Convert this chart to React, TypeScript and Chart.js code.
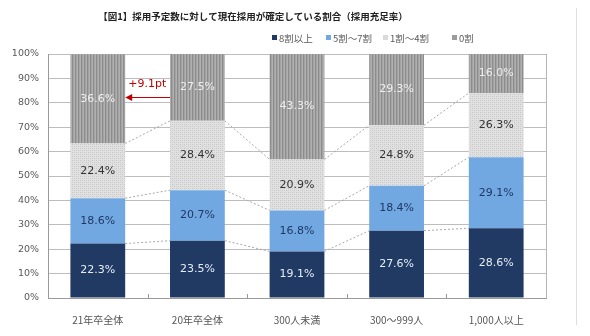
import { useEffect, useRef } from 'react';
import { Chart, registerables } from 'chart.js';

Chart.register(...registerables);

const TITLE = '【図1】採用予定数に対して現在採用が確定している割合（採用充足率）';
const categories = ['21年卒全体', '20年卒全体', '300人未満', '300～999人', '1,000人以上'];
const seriesNames = ['8割以上', '5割～7割', '1割～4割', '0割'];
const s80 = [22.3, 23.5, 19.1, 27.6, 28.6];
const s50 = [18.6, 20.7, 16.8, 18.4, 29.1];
const s10 = [22.4, 28.4, 20.9, 24.8, 26.3];
const s00 = [36.6, 27.5, 43.3, 29.3, 16.0];
const yTickMax = 100;
const yTickStep = 10;
const annotationValue = 82.5;
const annotationText = '+9.1pt';

const LATIN = "'DejaVu Sans', 'Noto Sans CJK JP', sans-serif";
const CJK = "'Noto Sans CJK JP', 'DejaVu Sans', sans-serif";

const NAVY = '#213a63';
const BLUE = '#72a8e2';
const LIGHT = '#dadada';
const GRAY = '#9c9c9c';

function stripePattern(ctx: CanvasRenderingContext2D): CanvasPattern | string {
  const t = document.createElement('canvas');
  t.width = 3; t.height = 2;
  const c = t.getContext('2d')!;
  c.fillStyle = '#a3a3a3'; c.fillRect(0, 0, 3, 2);
  c.fillStyle = '#8c8c8c'; c.fillRect(0, 0, 1, 2);
  c.fillStyle = '#b0b0b0'; c.fillRect(2, 0, 1, 2);
  return ctx.createPattern(t, 'repeat') || GRAY;
}

function dotPattern(ctx: CanvasRenderingContext2D): CanvasPattern | string {
  const t = document.createElement('canvas');
  t.width = 4; t.height = 4;
  const c = t.getContext('2d')!;
  c.fillStyle = '#e0e0e0'; c.fillRect(0, 0, 4, 4);
  c.fillStyle = '#c6c6c6';
  c.fillRect(0, 0, 1, 1); c.fillRect(2, 2, 1, 1);
  c.fillStyle = '#d2d2d2';
  c.fillRect(2, 0, 1, 1); c.fillRect(0, 2, 1, 1);
  return ctx.createPattern(t, 'repeat') || LIGHT;
}

const labelColors = ['#e6edf5', '#1f3864', '#333333', '#eeeeee'];

export default function App() {
  const ref = useRef<HTMLCanvasElement | null>(null);

  useEffect(() => {
    const canvas = ref.current!;
    const ctx = canvas.getContext('2d')!;
    const stripes = stripePattern(ctx);
    const dots = dotPattern(ctx);

    const decor = {
      id: 'decor',
      beforeDatasetsDraw(chart: any) {
        const c = chart.ctx;
        const area = chart.chartArea;
        c.save();
        c.strokeStyle = '#b5b5b5';
        c.lineWidth = 1;
        c.beginPath();
        c.moveTo(Math.round(area.right) + 0.5, area.top);
        c.lineTo(Math.round(area.right) + 0.5, area.bottom);
        c.stroke();
        const xs = chart.scales.x;
        c.strokeStyle = '#999';
        for (let i = 0; i < categories.length - 1; i++) {
          const x = Math.round((xs.getPixelForValue(i) + xs.getPixelForValue(i + 1)) / 2) + 0.5;
          c.beginPath();
          c.moveTo(x, area.bottom - 4);
          c.lineTo(x, area.bottom);
          c.stroke();
        }
        c.strokeStyle = '#a8a8a8';
        c.setLineDash([2, 2]);
        for (let d = 0; d < 3; d++) {
          const meta = chart.getDatasetMeta(d);
          for (let i = 0; i < meta.data.length - 1; i++) {
            const a = meta.data[i];
            const b = meta.data[i + 1];
            c.beginPath();
            c.moveTo(a.x + a.width / 2, a.y);
            c.lineTo(b.x - b.width / 2, b.y);
            c.stroke();
          }
        }
        c.restore();
      },
      afterDatasetsDraw(chart: any) {
        const c = chart.ctx;
        c.save();
        c.textAlign = 'center';
        c.textBaseline = 'middle';
        c.font = `11px ${LATIN}`;
        chart.data.datasets.forEach((ds: any, d: number) => {
          const meta = chart.getDatasetMeta(d);
          meta.data.forEach((el: any, i: number) => {
            const v = ds.data[i] as number;
            c.fillStyle = labelColors[d];
            c.fillText(v.toFixed(1) + '%', el.x, (el.y + el.base) / 2);
          });
        });
        const m0 = chart.getDatasetMeta(3).data[0];
        const m1 = chart.getDatasetMeta(3).data[1];
        const ys = chart.scales.y;
        const y = Math.round(ys.getPixelForValue(annotationValue)) + 0.5;
        const x0 = m0.x + m0.width / 2;
        const x1 = m1.x - m1.width / 2;
        c.strokeStyle = '#c00000';
        c.fillStyle = '#c00000';
        c.lineWidth = 1.2;
        c.beginPath();
        c.moveTo(x1, y);
        c.lineTo(x0 + 6, y);
        c.stroke();
        c.beginPath();
        c.moveTo(x0, y);
        c.lineTo(x0 + 7, y - 3.5);
        c.lineTo(x0 + 7, y + 3.5);
        c.closePath();
        c.fill();
        c.textAlign = 'left';
        c.font = `11px ${LATIN}`;
        c.fillText(annotationText, x0 + 3, y - 13);
        c.fillStyle = '#222';
        c.textAlign = 'center';
        c.font = `bold 9.5px ${CJK}`;
        c.fillText(TITLE, 253, 16);
        const fills = [NAVY, BLUE, LIGHT, GRAY];
        const lx = [272, 326, 383, 452];
        c.font = `9.5px ${CJK}`;
        c.textAlign = 'left';
        seriesNames.forEach((n, k) => {
          c.fillStyle = fills[k];
          c.fillRect(lx[k], 35, 5, 5);
          c.fillStyle = '#595959';
          c.fillText(n, lx[k] + 7, 38);
        });
        c.strokeStyle = '#dedede';
        c.lineWidth = 1;
        c.beginPath();
        c.moveTo(576.5, 8);
        c.lineTo(576.5, 325);
        c.stroke();
        c.restore();
      },
    };

    const fillsFor = [NAVY, BLUE, dots, stripes];
    const values = [s80, s50, s10, s00];

    const chart = new Chart(canvas, {
      type: 'bar',
      data: {
        labels: categories,
        datasets: seriesNames.map((n, k) => ({
          label: n,
          data: values[k],
          backgroundColor: fillsFor[k] as any,
          borderWidth: 0,
          categoryPercentage: 1,
          barPercentage: 0.55,
        })),
      },
      options: {
        animation: false,
        responsive: false,
        maintainAspectRatio: false,
        layout: { padding: { top: 54, right: 44, left: 8, bottom: 0 } },
        plugins: {
          legend: { display: false },
          title: { display: false },
          tooltip: { enabled: false },
        },
        scales: {
          x: {
            stacked: true,
            grid: { display: false },
            border: { color: '#9a9a9a' },
            ticks: { color: '#555555', font: { family: CJK, size: 10 }, padding: 8 },
            afterFit: (s: any) => { s.height = 38; },
          },
          y: {
            stacked: true,
            min: 0,
            max: yTickMax,
            ticks: {
              stepSize: yTickStep,
              color: '#595959',
              font: { family: LATIN, size: 9.5 },
              padding: 9,
              callback: (v: any) => v + '%',
            },
            grid: { color: '#bdbdbd', drawTicks: false },
            border: { color: '#9a9a9a' },
            afterFit: (s: any) => { s.width = 40; },
          },
        },
      },
      plugins: [decor],
    });
    return () => chart.destroy();
  }, []);

  return (
    <div style={{ position: 'fixed', left: 0, top: 0, width: 590, height: 336, background: '#fff' }}>
      <canvas ref={ref} width={590} height={336} style={{ width: 590, height: 336 }} />
    </div>
  );
}
